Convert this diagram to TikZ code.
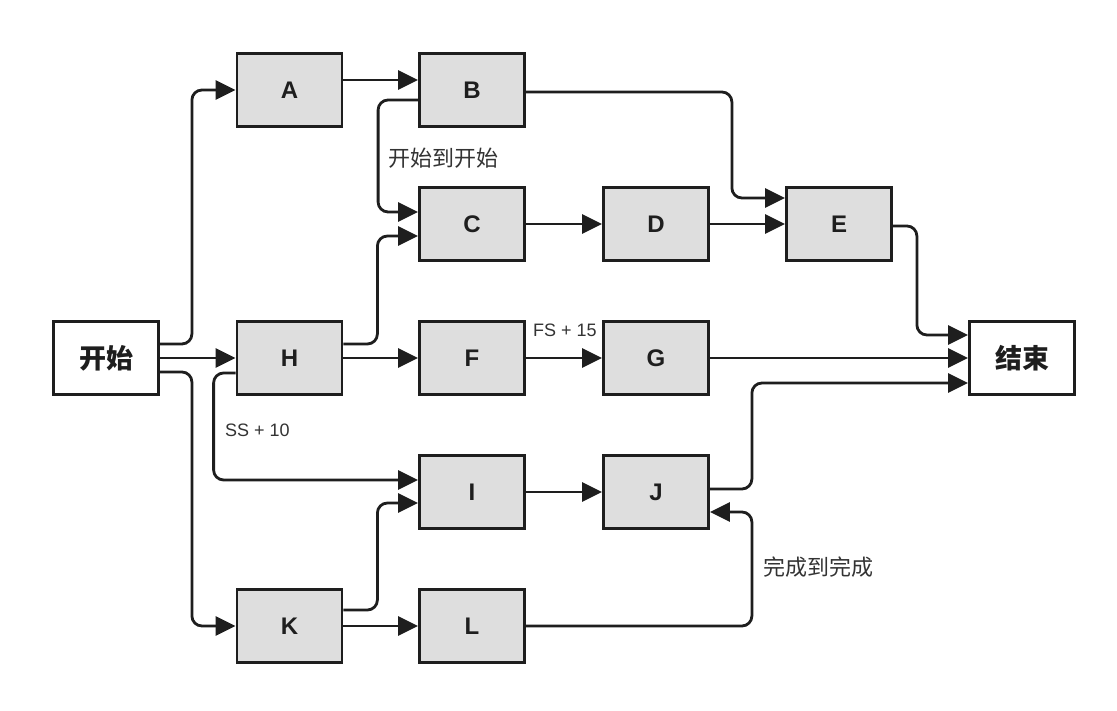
\documentclass[tikz,border=0pt]{standalone}
\usepackage{fontspec}
\setmainfont{Liberation Sans}
\newfontfamily\cjk{Noto Sans CJK SC}
\usetikzlibrary{arrows.meta,calc}
\definecolor{boxgray}{HTML}{DEDEDE}
\definecolor{ink}{HTML}{1E1E1E}
\definecolor{labelc}{HTML}{333333}
\tikzset{
  task/.style={draw=ink, line width=2.8pt, fill=boxgray, minimum width=105pt, minimum height=73pt, inner sep=0pt, font=\fontsize{24}{28}\selectfont\bfseries, text=ink},
  term/.style={task, fill=white, font=\cjk\fontsize{27}{30}\selectfont\bfseries},
  link/.style={draw=ink, line width=2.8pt, rounded corners=10pt, -{Triangle[length=20pt,width=19pt]}},
  lbl/.style={anchor=west, inner sep=0pt, text=labelc, font=\fontsize{18}{20}\selectfont},
  cjklbl/.style={anchor=west, inner sep=0pt, text=labelc, font=\cjk\fontsize{22}{24}\selectfont},
}
\begin{document}
\begin{tikzpicture}[x=1pt,y=1pt]
\useasboundingbox[fill=white] (0,0) rectangle (1117,710);
% nodes
\node[term] (start) at (106,352) {开始};
\node[task] (A) at (289.5,620) {A};
\node[task] (B) at (472,620) {B};
\node[task] (C) at (472,486) {C};
\node[task] (D) at (656,486) {D};
\node[task] (E) at (839,486) {E};
\node[task] (H) at (289.5,352) {H};
\node[task] (F) at (472,352) {F};
\node[task] (G) at (656,352) {G};
\node[term] (end) at (1022,352) {结束};
\node[task] (I) at (472,218) {I};
\node[task] (J) at (656,218) {J};
\node[task] (K) at (289.5,84) {K};
\node[task] (L) at (472,84) {L};
% connectors
\draw[link] ([yshift=14]start.east) -- ++(32,0) |- (A.west);
\draw[link] (start.east) -- (H.west);
\draw[link] ([yshift=-14]start.east) -- ++(32,0) |- (K.west);
\draw[link] ([yshift=10]A.east) -- ([yshift=10]B.west);
\draw[link] ([yshift=-10]B.west) -- ++(-40,0) |- ([yshift=12]C.west);
\draw[link] ([yshift=14]H.east) -- ++(34,0) |- ([yshift=-12]C.west);
\draw[link] (H.east) -- (F.west);
\draw[link] ([yshift=-15]H.west) -- ++(-22,0) |- ([yshift=12]I.west);
\draw[link] ([yshift=16]K.east) -- ++(34,0) |- ([yshift=-11]I.west);
\draw[link] (K.east) -- (L.west);
\draw[link] (C.east) -- (D.west);
\draw[link] (D.east) -- (E.west);
\draw[link] ([yshift=-2]B.east) -- ++(206,0) |- ([yshift=26]E.west);
\draw[link] ([yshift=-2]E.east) -- ++(24,0) |- ([yshift=23]end.west);
\draw[link] (F.east) -- (G.west);
\draw[link] (G.east) -- (end.west);
\draw[link] (I.east) -- (J.west);
\draw[link] ([yshift=3]J.east) -- ++(42,0) |- ([yshift=-25]end.west);
\draw[link] (L.east) -- ++(226,0) |- ([yshift=-20]J.east);
% labels
\node[cjklbl] (lss) at (388,552) {开始到开始};
\node[lbl] (lss10) at (225,280) {SS + 10};
\node[lbl] (lfs15) at (533,380) {FS + 15};
\node[cjklbl] (lff) at (763,143) {完成到完成};
\end{tikzpicture}
\end{document}
